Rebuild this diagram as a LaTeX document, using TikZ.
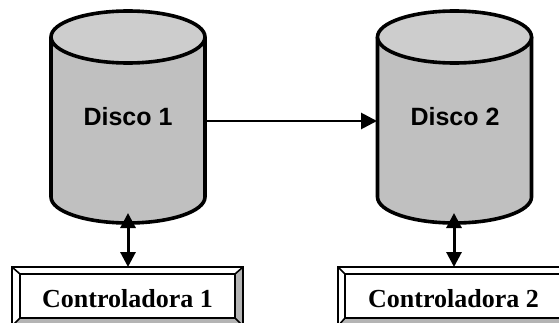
\documentclass[tikz,border=0pt]{standalone}
\usepackage{fontspec}
\setmainfont{Liberation Serif}
\newfontfamily\arialbf{Liberation Sans}[BoldFont={* Bold}]
\usetikzlibrary{arrows.meta}
\definecolor{bodygray}{HTML}{C0C0C0}
\definecolor{topgray}{HTML}{CDCDCD}
\definecolor{bevgray}{HTML}{B4B4B4}
\newcommand\bevelframe[8]{%
  % outer x1 y1 x2 y2, inner a1 b1 a2 b2
  \fill[white] (#1,#4)--(#3,#4)--(#7,#8)--(#5,#8)--cycle;
  \fill[white] (#1,#2)--(#1,#4)--(#5,#8)--(#5,#6)--cycle;
  \fill[bevgray] (#3,#4)--(#3,#2)--(#7,#6)--(#7,#8)--cycle;
  \fill[bevgray] (#1,#2)--(#3,#2)--(#7,#6)--(#5,#6)--cycle;
  \draw[frameline] (#1,#2) rectangle (#3,#4);
  \draw[frameline] (#5,#6) rectangle (#7,#8);
  \draw[frameline] (#1,#2)--(#5,#6) (#1,#4)--(#5,#8) (#3,#4)--(#7,#8) (#3,#2)--(#7,#6);
}
\newcommand\disk[1]{%
  \fill[bodygray] (#1-77,285) -- (#1-77,125) arc[start angle=180,end angle=360,x radius=77,y radius=26] -- (#1+77,285) -- cycle;
  \draw[diskline] (#1-77,285) -- (#1-77,125) arc[start angle=180,end angle=360,x radius=77,y radius=26] -- (#1+77,285);
  \draw[diskline,fill=topgray] (#1,285) ellipse[x radius=77,y radius=26];
}
\begin{document}
\begin{tikzpicture}[x=1pt,y=1pt,
  diskline/.style={line width=3.6pt},
  frameline/.style={line width=1.6pt},
  conn/.style={line width=2.8pt,-{Triangle[length=16pt,width=16pt]}},
  dconn/.style={line width=3pt,{Triangle[length=15pt,width=15pt]}-{Triangle[length=15pt,width=15pt]}},
  disklabel/.style={font=\arialbf\bfseries\fontsize{25}{30}\selectfont,inner sep=0pt},
  ctrllabel/.style={font=\bfseries\fontsize{26}{30}\selectfont,inner sep=0pt}]
\useasboundingbox (0,0) rectangle (559,322);
\disk{128}
\disk{454.5}
\node[disklabel] (d1) at (128,205) {Disco 1};
\node[disklabel] (d2) at (455,205) {Disco 2};
\bevelframe{12}{-4}{243}{55}{20}{4}{235}{48}
\bevelframe{338}{-4}{569}{55}{345}{4}{562}{48}
\node[ctrllabel] (c1) at (127.5,23) {Controladora 1};
\node[ctrllabel] (c2) at (453.5,23) {Controladora 2};
\coordinate (d1r) at (205,201);
\coordinate (d2l) at (377,201);
\coordinate (d1b) at (128,109);
\coordinate (c1t) at (128,55);
\coordinate (d2b) at (454,109);
\coordinate (c2t) at (454,55);
\draw[conn] (d1r) -- (d2l);
\draw[dconn] (d1b) -- (c1t);
\draw[dconn] (d2b) -- (c2t);
\end{tikzpicture}
\end{document}
